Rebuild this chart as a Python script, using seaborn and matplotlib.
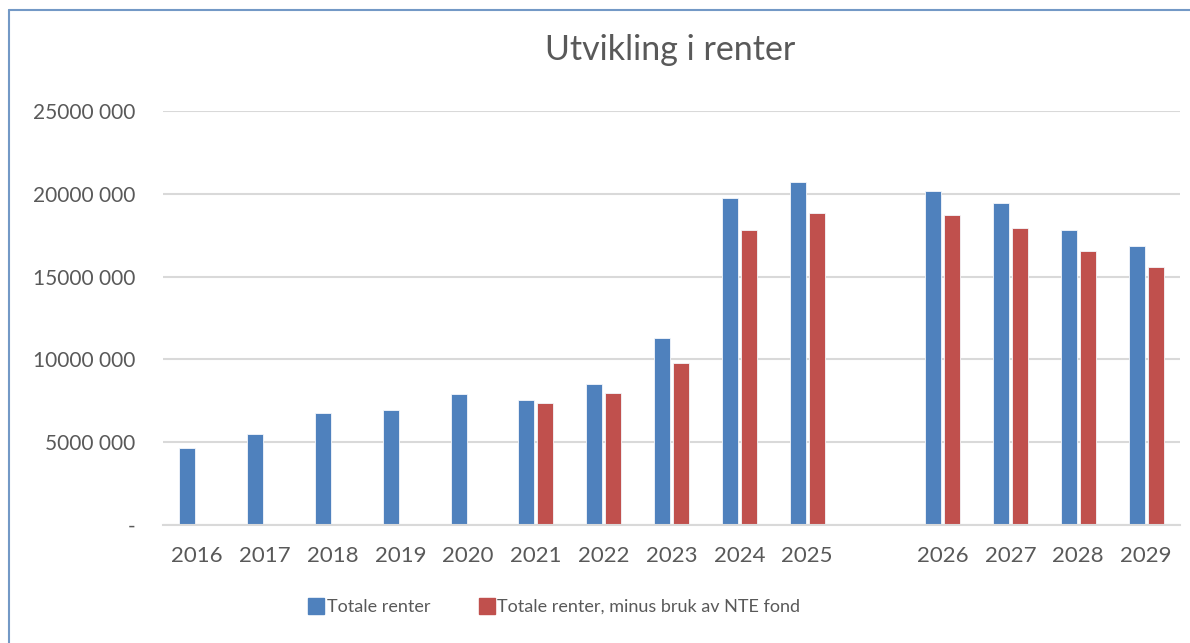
import pandas as pd
import numpy as np
import matplotlib
matplotlib.use('Agg')
import matplotlib.pyplot as plt
import seaborn as sns
from matplotlib.ticker import FuncFormatter
from matplotlib.lines import Line2D

years = ['2016', '2017', '2018', '2019', '2020', '2021', '2022', '2023', '2024', '2025',
         ' ', '2026', '2027', '2028', '2029']
totale = [4650000, 5500000, 6760000, 6940000, 7920000, 7560000, 8520000, 11300000, 19750000, 20720000,
          np.nan, 20180000, 19440000, 17810000, 16830000]
minus_nte = [np.nan, np.nan, np.nan, np.nan, np.nan, 7380000, 7980000, 9780000, 17810000, 18840000,
             np.nan, 18720000, 17930000, 16550000, 15580000]
series = ['Totale renter', 'Totale renter, minus bruk av NTE fond']
colors = ['#4F81BD', '#C0504D']

df = pd.DataFrame({'year': years * 2,
                   'value': totale + minus_nte,
                   'serie': [series[0]] * len(years) + [series[1]] * len(years)})

sns.set_style('white')
plt.rcParams['font.family'] = ['Lato', 'DejaVu Sans']

fig = plt.figure(figsize=(11.9, 6.43), dpi=100)
ax = fig.add_axes([163/1190, 1 - 525/643, (1180 - 163)/1190, (525 - 111)/643])

sns.barplot(data=df, x='year', y='value', hue='serie', palette=colors, order=years, saturation=1,
            width=0.56, gap=0.16, edgecolor='#f4f7fb', linewidth=0.6, ax=ax, legend=False)

ax.set_ylim(0, 25000000)
ax.set_yticks(range(0, 25000001, 5000000))
ax.yaxis.set_major_formatter(FuncFormatter(lambda v, p: '-' if v == 0 else f'{int(v // 1000)} 000'))
ax.yaxis.grid(True, color='#d9d9d9', linewidth=1.5)
ax.set_axisbelow(True)
for s in ['left', 'right', 'top']:
    ax.spines[s].set_visible(False)
ax.spines['bottom'].set_color('#d9d9d9')
ax.spines['bottom'].set_linewidth(1.5)
ax.tick_params(axis='x', length=0, labelsize=16, colors='#595959', pad=15)
ax.tick_params(axis='y', length=0, labelsize=15, colors='#595959', pad=20)
ax.set_xlabel('')
ax.set_ylabel('')
ax.set_xlim(-0.5, len(years) - 0.5)

fig.text(670/1190, 1 - 50/643, 'Utvikling i renter', ha='center', va='center', fontsize=24.5, color='#595959')

handles = [Line2D([], [], marker='s', linestyle='', markersize=11, color=c) for c in colors]
fig.legend(handles, series, loc='center', bbox_to_anchor=(552/1190, 1 - 607/643), ncol=2,
           frameon=False, fontsize=13, labelcolor='#595959', handletextpad=-0.1,
           columnspacing=2.4, handlelength=1.4)

# frame line round the chart
border = '#7399c6'
fig.add_artist(Line2D([9/1190, 9/1190], [0, 1 - 10/643], color=border, linewidth=1.5, transform=fig.transFigure))
fig.add_artist(Line2D([9/1190, 1], [1 - 10/643, 1 - 10/643], color=border, linewidth=1.5, transform=fig.transFigure))

fig.savefig('out.png', dpi=100)
